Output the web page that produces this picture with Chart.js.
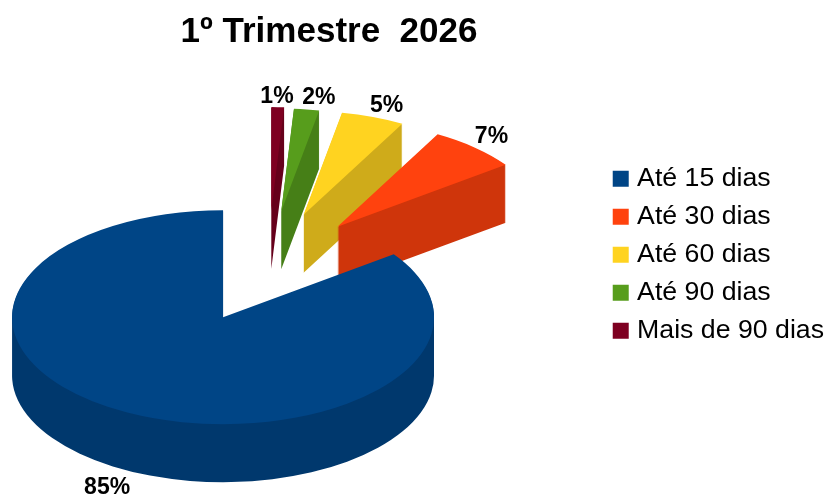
<!DOCTYPE html>
<html>
<head>
<meta charset="utf-8">
<script src="https://cdn.jsdelivr.net/npm/chart.js@4"></script>
<style>
  html, body { margin: 0; background: #fff; }
  canvas { display: block; }
</style>
</head>
<body>
<canvas id="pie" width="828" height="497"></canvas>
<script>
const titleText = "1º Trimestre  2026";
const categories = ["Até 15 dias", "Até 30 dias", "Até 60 dias", "Até 90 dias", "Mais de 90 dias"];
const seriesValues = [85, 7, 5, 2, 1];
const colors = ["#004586", "#ff420e", "#ffd320", "#579d1c", "#7e0021"];
const wallColors = ["#00386d", "#cf350b", "#cfab1a", "#467f17", "#66001b"];

// how far each slice is pulled out of the pie, in px, and how flat that move is on screen
const explode = [99, 105, 105, 105, 105];
const explodeTilt = [0.49, 0.6, 0.6, 0.6, 0.6];
const sliceRadius = [211, 208, 205, 203, 205];
const labelShiftX = [-2, -8, 0, 7, -2];
const labelShiftY = [-2, -4, -1, 0, 0];

const squash = 0.507;
const depth = 58;
const labelRing = 350;

// the slices run counter clockwise from the top, chart.js only goes clockwise
const reversed = arr => arr.slice().reverse();
const seriesIndex = idx => seriesValues.length - 1 - idx;
const midAngle = arc => (arc.startAngle + arc.endAngle) / 2;
const centerY = chart => (chart.chartArea.top + chart.chartArea.bottom) / 2;

const pie3d = {
    id: "pie3d",
    afterLayout(chart) {
        // title and pie sit left of the middle of the free space
        chart.titleBlock.left = 0;
        chart.titleBlock.right = 658;
        chart.chartArea.right = 536;
    },
    afterDatasetsUpdate(chart) {
        chart.getDatasetMeta(0).data.forEach((arc, idx) => {
            const i = seriesIndex(idx);
            arc.x += Math.cos(midAngle(arc)) * explode[i];
            arc.y += Math.sin(midAngle(arc)) * explode[i] * explodeTilt[i] / squash;
            arc.outerRadius = sliceRadius[i];
        });
    },
    beforeDatasetsDraw(chart) {
        const c = chart.ctx;
        const cy = centerY(chart);
        chart.getDatasetMeta(0).data.forEach((arc, idx) => {
            // one path for the whole sweep, so the edges don't pile up into stripes
            c.beginPath();
            for (let d = depth; d >= 1; d--) {
                c.save();
                c.translate(arc.x, cy + (arc.y - cy) * squash + d);
                c.scale(1, squash);
                c.moveTo(0, 0);
                c.arc(0, 0, arc.outerRadius, arc.startAngle, arc.endAngle);
                c.closePath();
                c.restore();
            }
            c.fillStyle = wallColors[seriesIndex(idx)];
            c.fill();
        });
        c.save();
        c.translate(0, cy);
        c.scale(1, squash);
        c.translate(0, -cy);
    },
    afterDatasetsDraw(chart) {
        const c = chart.ctx;
        const cx = (chart.chartArea.left + chart.chartArea.right) / 2;
        const cy = centerY(chart);
        c.restore();
        c.save();
        c.font = "bold 23px 'Liberation Sans'";
        c.fillStyle = "#000";
        c.textAlign = "center";
        c.textBaseline = "middle";
        chart.getDatasetMeta(0).data.forEach((arc, idx) => {
            const i = seriesIndex(idx);
            const mid = midAngle(arc);
            const front = Math.sin(mid) > 0 ? depth : 0;
            const x = cx + Math.cos(mid) * labelRing + labelShiftX[i];
            const y = cy + Math.sin(mid) * labelRing * squash + front + labelShiftY[i];
            c.fillText(seriesValues[i] + "%", x, y);
        });
        c.restore();
    }
};

new Chart(document.getElementById("pie"), {
    type: "pie",
    data: {
        labels: reversed(categories),
        datasets: [{
            data: reversed(seriesValues),
            backgroundColor: reversed(colors),
            borderWidth: 0,
            clip: false
        }]
    },
    options: {
        responsive: false,
        animation: false,
        events: [],
        layout: { padding: { right: -6, bottom: 103 } },
        plugins: {
            tooltip: { enabled: false },
            title: {
                display: true,
                text: titleText,
                color: "#000",
                font: { family: "'Liberation Sans'", size: 35, weight: "bold" },
                padding: { top: 11, bottom: 101 }
            },
            legend: {
                position: "right",
                align: "start",
                fullSize: false,
                reverse: true,
                labels: {
                    color: "#000",
                    font: { family: "'Liberation Sans'", size: 26.7 },
                    boxWidth: 6,
                    boxHeight: 6,
                    padding: 11.3,
                    generateLabels(chart) {
                        const ds = chart.data.datasets[0];
                        return chart.data.labels.map((text, i) => ({
                            text,
                            fillStyle: ds.backgroundColor[i],
                            strokeStyle: ds.backgroundColor[i],
                            lineWidth: 10,
                            index: i
                        }));
                    }
                }
            }
        }
    },
    plugins: [pie3d]
});
</script>
</body>
</html>
